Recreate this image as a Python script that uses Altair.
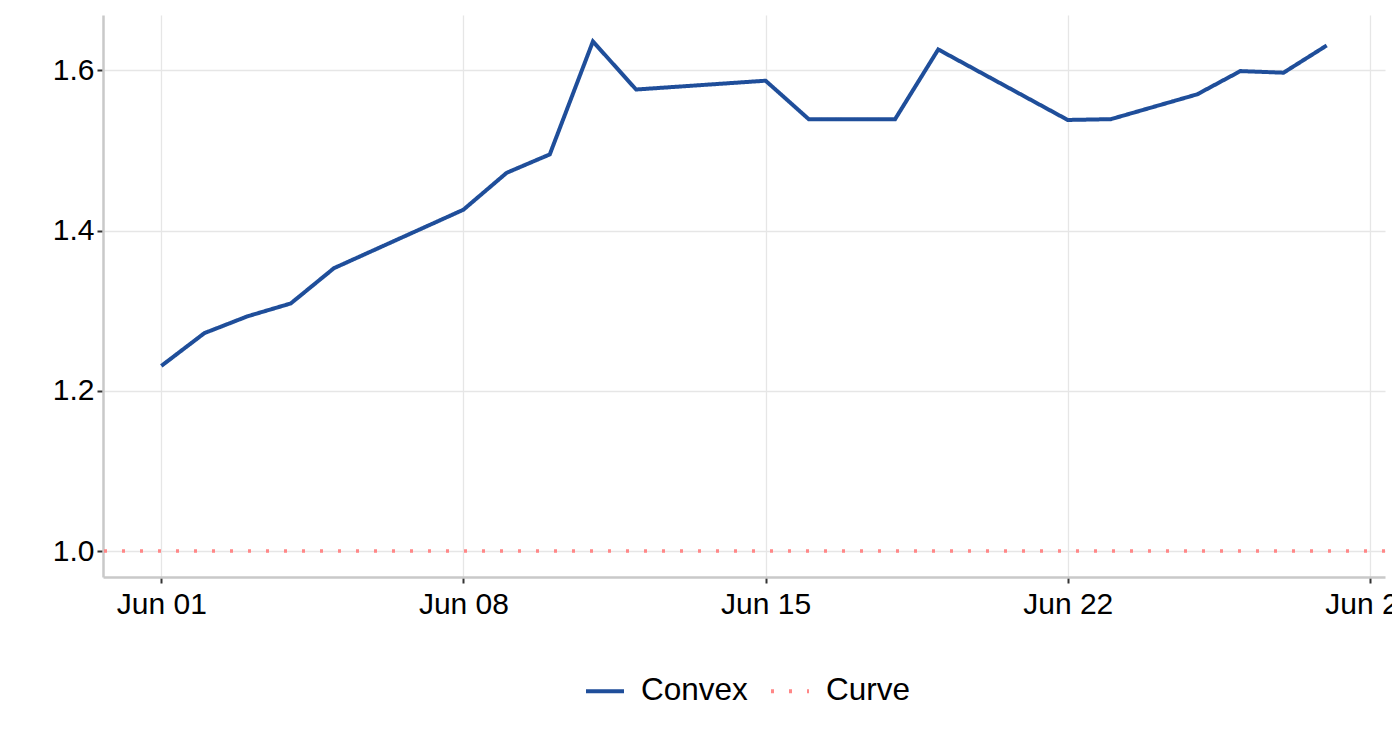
import altair as alt
import pandas as pd

# ---- data ----
convex_dates = ["2020-06-01", "2020-06-02", "2020-06-03", "2020-06-04", "2020-06-05",
                "2020-06-08", "2020-06-09", "2020-06-10", "2020-06-11", "2020-06-12",
                "2020-06-15", "2020-06-16", "2020-06-18", "2020-06-19", "2020-06-22",
                "2020-06-23", "2020-06-25", "2020-06-26", "2020-06-27", "2020-06-28"]
convex_values = [1.231, 1.272, 1.293, 1.309, 1.353,
                 1.426, 1.472, 1.495, 1.636, 1.576,
                 1.587, 1.539, 1.539, 1.626, 1.538,
                 1.539, 1.570, 1.599, 1.597, 1.631]
curve_value = [1.0]
series_names = ["Convex", "Curve"]
series_colors = ["#1F4E9A", "#FF8787"]
x_tick_days = [1, 8, 15, 22, 29]
y_ticks = [1.0, 1.2, 1.4, 1.6]

convex_df = pd.DataFrame({
    "date": [d + "T00:00:00Z" for d in convex_dates],
    "value": convex_values,
    "series": "Convex",
})
curve_df = pd.DataFrame({"value": curve_value, "series": "Curve"})

FONT = "Liberation Sans"

x_scale = alt.Scale(
    type="utc",
    domain=[alt.DateTime(year=2020, month=5, date=30, hours=15, minutes=36, utc=True),
            alt.DateTime(year=2020, month=6, date=29, hours=8, minutes=24, utc=True)],
)
y_scale = alt.Scale(domain=[0.9676, 1.669], nice=False, zero=False)

color_scale = alt.Scale(domain=series_names, range=series_colors)
dash_scale = alt.Scale(domain=series_names, range=[[1, 0], [3, 15]])

legend = alt.Legend(
    title=None,
    orient="none",
    direction="horizontal",
    legendX=481,
    legendY=655,
    symbolType="stroke",
    symbolSize=1444,
    symbolStrokeWidth=4,
    labelFont=FONT,
    labelFontSize=31.5,
    labelColor="black",
    labelOffset=15,
    columnPadding=15,
    padding=0,
)

y_axis = alt.Axis(values=y_ticks, format=".1f", title=None)

line = alt.Chart(convex_df).mark_line(strokeWidth=4, strokeJoin="miter").encode(
    x=alt.X("date:T", scale=x_scale,
            axis=alt.Axis(values=[alt.DateTime(year=2020, month=6, date=d, utc=True) for d in x_tick_days],
                          format="%b %d", title=None)),
    y=alt.Y("value:Q", scale=y_scale, axis=y_axis),
    color=alt.Color("series:N", scale=color_scale, legend=legend),
    strokeDash=alt.StrokeDash("series:N", scale=dash_scale, legend=legend),
)

rule = alt.Chart(curve_df).mark_rule(strokeWidth=3.5, strokeCap="butt").encode(
    y=alt.Y("value:Q", scale=y_scale, axis=y_axis),
    color=alt.Color("series:N", scale=color_scale, legend=legend),
    strokeDash=alt.StrokeDash("series:N", scale=dash_scale, legend=legend),
)

chart = alt.layer(rule, line).properties(
    width=1282,
    height=562,
    autosize="none",
    padding={"left": 95, "top": 7, "right": 7, "bottom": 155},
).configure_view(
    stroke=None
).configure_axis(
    domainColor="#C9C9C9",
    domainWidth=2.5,
    gridColor="#E6E6E6",
    gridWidth=1.3,
    tickColor="#333333",
    tickWidth=2,
    tickSize=6,
    labelFont=FONT,
    labelFontSize=30,
    labelColor="black",
).configure_axisX(
    labelPadding=6,
).configure_axisY(
    labelPadding=3,
)

chart.save("out.html", embed_options={"renderer": "svg", "actions": False})
